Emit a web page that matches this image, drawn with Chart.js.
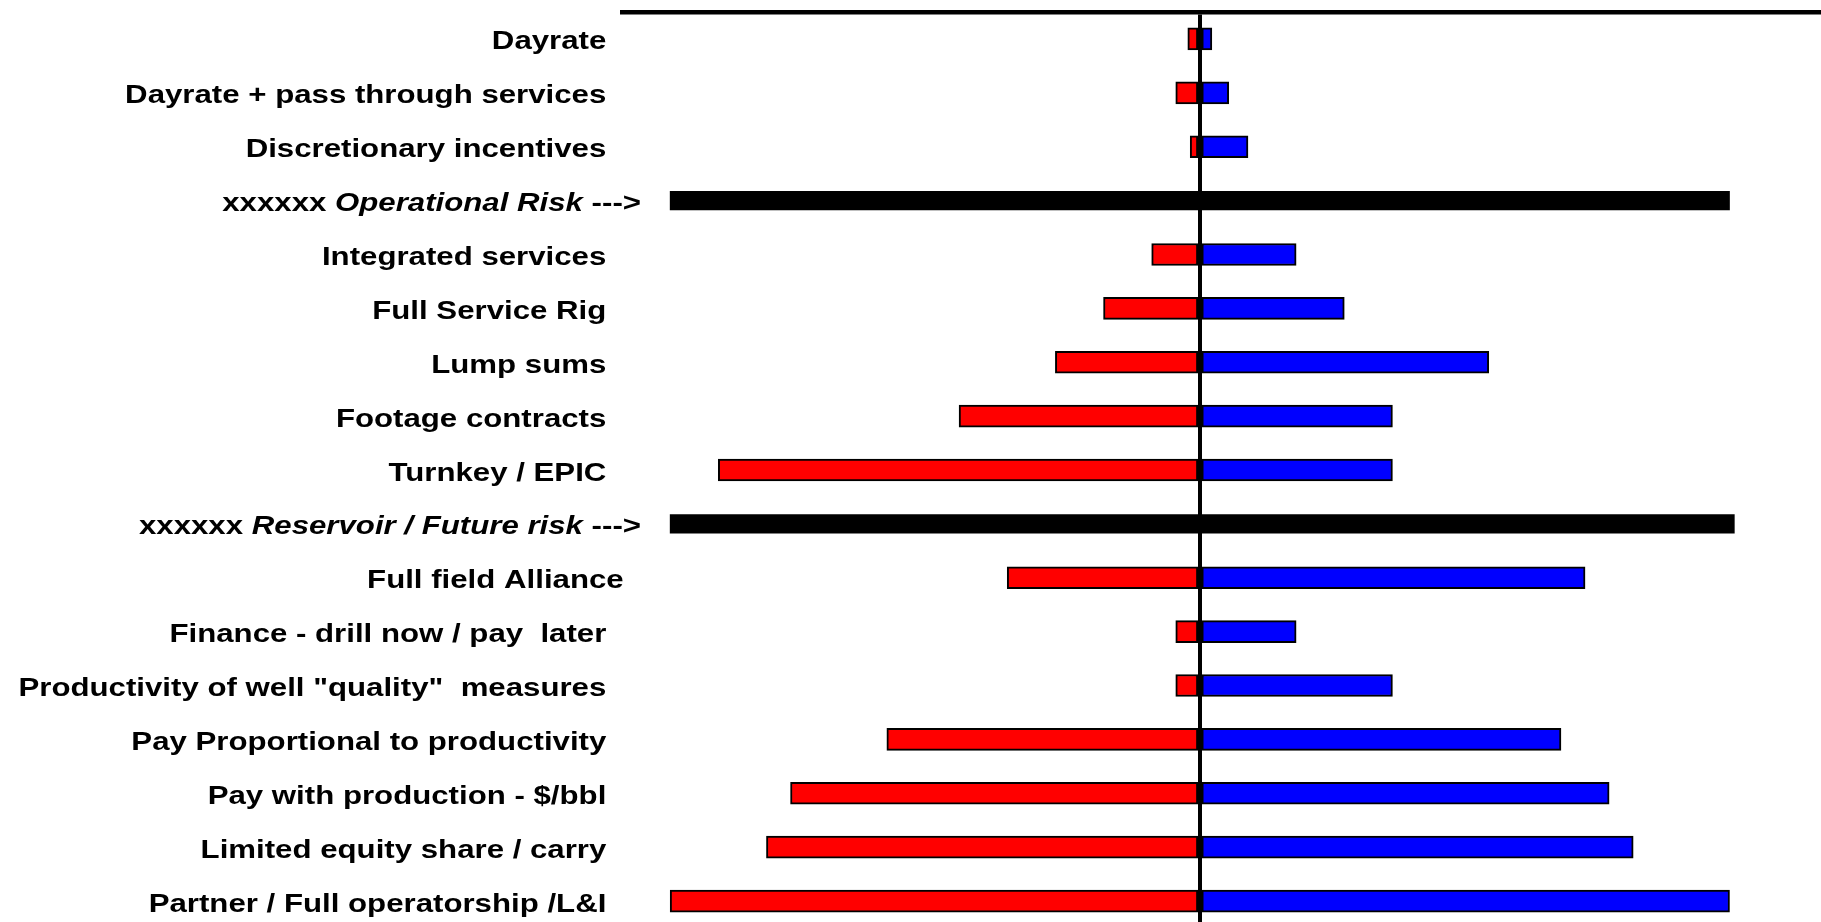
<!DOCTYPE html>
<html>
<head>
<meta charset="utf-8">
<script src="https://cdn.jsdelivr.net/npm/chart.js@4.4.1/dist/chart.umd.min.js"></script>
<style>
    html, body { margin: 0; padding: 0; background: #fff; overflow: hidden; }
    #contenedor { width: 1821px; height: 928px; position: relative; }
</style>
</head>
<body>
<div id="contenedor"><canvas id="myChart"></canvas></div>
<script>
// trailing spaces keep the label ends where the original slide had them
const categories = [
    "Dayrate    ",
    "Dayrate + pass through services    ",
    "Discretionary incentives    ",
    "xxxxxx Operational Risk --->",
    "Integrated services    ",
    "Full Service Rig    ",
    "Lump sums    ",
    "Footage contracts    ",
    "Turnkey / EPIC    ",
    "xxxxxx Reservoir / Future risk --->",
    "Full field Alliance  ",
    "Finance - drill now / pay  later    ",
    "Productivity of well \"quality\"  measures    ",
    "Pay Proportional to productivity    ",
    "Pay with production - $/bbl    ",
    "Limited equity share / carry    ",
    "Partner / Full operatorship /L&I    "
];
const italicParts = ["Operational Risk", "Reservoir / Future risk"];

const riesgoContratista = [-0.25, -0.5, -0.2, null, -1, -2, -3, -5, -10, null, -4, -0.5, -0.5, -6.5, -8.5, -9, -11];
const beneficioContratista = [0.25, 0.6, 1, null, 2, 3, 6, 4, 4, null, 8, 2, 4, 7.5, 8.5, 9, 11];
const separadorIzq = [null, null, null, -11, null, null, null, null, null, -11, null, null, null, null, null, null, null];
const separadorDer = [null, null, null, 11, null, null, null, null, null, 11.1, null, null, null, null, null, null, null];

const fontFamily = "'Liberation Sans', Arial, sans-serif";
const fontSize = 26;
const stretch = 1.2;

function partesEtiqueta(label) {
    for (let p of italicParts) {
        let i = label.indexOf(p);
        if (i >= 0) {
            return [
                { text: label.slice(0, i), italic: false },
                { text: p, italic: true },
                { text: label.slice(i + p.length), italic: false }
            ];
        }
    }
    return [{ text: label, italic: false }];
}

const etiquetasPlugin = {
    id: 'etiquetas',
    afterDraw(chart) {
        let ctx = chart.ctx;
        let yScale = chart.scales.y;
        let right = chart.chartArea.left + 19;
        ctx.save();
        ctx.fillStyle = '#000';
        ctx.textBaseline = 'alphabetic';
        ctx.textAlign = 'left';
        categories.forEach(function (label, i) {
            let y = yScale.getPixelForValue(i) + 10.5;
            let partes = partesEtiqueta(label);
            let total = 0;
            partes.forEach(function (p) {
                ctx.font = (p.italic ? 'italic ' : '') + 'bold ' + fontSize + 'px ' + fontFamily;
                p.w = ctx.measureText(p.text).width;
                total += p.w;
            });
            ctx.save();
            ctx.translate(right, y);
            ctx.scale(stretch, 1);
            let x = -total;
            partes.forEach(function (p) {
                ctx.font = (p.italic ? 'italic ' : '') + 'bold ' + fontSize + 'px ' + fontFamily;
                ctx.fillText(p.text, x, 0);
                x += p.w;
            });
            ctx.restore();
        });
        ctx.restore();
    }
};

var data = {
    labels: categories,
    datasets: [{
        label: "Riesgo",
        data: riesgoContratista,
        backgroundColor: "#ff0000",
        borderColor: "#000000",
        borderWidth: 2,
        borderSkipped: false,
        barThickness: 22
    }, {
        label: "Beneficio",
        data: beneficioContratista,
        backgroundColor: "#0000ff",
        borderColor: "#000000",
        borderWidth: 2,
        borderSkipped: false,
        barThickness: 22
    }, {
        label: "Separador izq",
        data: separadorIzq,
        backgroundColor: "#000000",
        borderWidth: 0,
        barThickness: 18.5
    }, {
        label: "Separador der",
        data: separadorDer,
        backgroundColor: "#000000",
        borderWidth: 0,
        barThickness: 18.5
    }]
};

var options = {
    indexAxis: 'y',
    responsive: true,
    maintainAspectRatio: false,
    animation: false,
    layout: {
        padding: { left: 622, top: 12, right: 0, bottom: 0 }
    },
    plugins: {
        legend: { display: false },
        tooltip: { enabled: false }
    },
    scales: {
        x: {
            type: 'linear',
            position: 'top',
            min: -12,
            max: 12.9,
            stacked: true,
            z: 1,
            ticks: { display: false, stepSize: 1 },
            grid: {
                drawTicks: false,
                lineWidth: 4,
                color: function (c) {
                    return c.tick && c.tick.value === 0 ? '#000000' : 'rgba(0,0,0,0)';
                }
            },
            border: { display: true, color: '#000000', width: 4.5 }
        },
        y: {
            type: 'category',
            stacked: true,
            offset: true,
            display: false
        }
    }
};

var ctx = document.getElementById('myChart').getContext('2d');
var myChart = new Chart(ctx, {
    type: 'bar',
    data: data,
    options: options,
    plugins: [etiquetasPlugin]
});
</script>
</body>
</html>
